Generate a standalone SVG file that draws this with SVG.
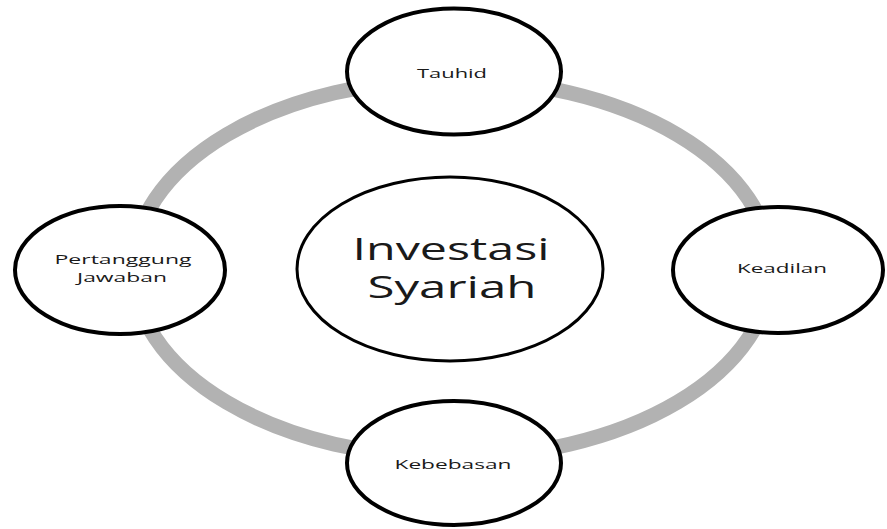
<svg xmlns="http://www.w3.org/2000/svg" width="887" height="529" viewBox="0 0 887 529">
  <style>
    .ring { fill: none; stroke: #b2b2b2; stroke-width: 15; }
    .node { fill: #ffffff; stroke: #000000; stroke-width: 4; }
    .hub { fill: #ffffff; stroke: #000000; stroke-width: 3; }
    .lbl { font-family: "Open Sans", "Liberation Sans", sans-serif; font-size: 13px; fill: #1a1a1a; text-anchor: middle; }
    .big { font-family: "Open Sans", "Liberation Sans", sans-serif; font-size: 31px; fill: #1a1a1a; text-anchor: middle; }
  </style>
  <rect width="887" height="529" fill="#ffffff"/>
  <g id="connectors">
    <ellipse class="ring" cx="452" cy="268.5" rx="319" ry="189"/>
  </g>
  <g id="node-center">
    <ellipse class="hub" cx="450" cy="269" rx="153" ry="92"/>
    <text class="big" x="451" y="260" textLength="197" lengthAdjust="spacingAndGlyphs">Investasi</text>
    <text class="big" x="452" y="298" textLength="169" lengthAdjust="spacingAndGlyphs">Syariah</text>
  </g>
  <g id="node-tauhid">
    <ellipse class="node" cx="454" cy="71.5" rx="107" ry="63"/>
    <text class="lbl" x="452" y="78" textLength="70" lengthAdjust="spacingAndGlyphs">Tauhid</text>
  </g>
  <g id="node-pertanggung">
    <ellipse class="node" cx="120" cy="270" rx="105" ry="64"/>
    <text class="lbl" x="123" y="264" textLength="137" lengthAdjust="spacingAndGlyphs">Pertanggung</text>
    <text class="lbl" x="122" y="282" textLength="90" lengthAdjust="spacingAndGlyphs">Jawaban</text>
  </g>
  <g id="node-keadilan">
    <ellipse class="node" cx="778" cy="270" rx="105" ry="63"/>
    <text class="lbl" x="782" y="273" textLength="90" lengthAdjust="spacingAndGlyphs">Keadilan</text>
  </g>
  <g id="node-kebebasan">
    <ellipse class="node" cx="454" cy="463" rx="107" ry="62"/>
    <text class="lbl" x="453" y="469" textLength="117" lengthAdjust="spacingAndGlyphs">Kebebasan</text>
  </g>
</svg>
